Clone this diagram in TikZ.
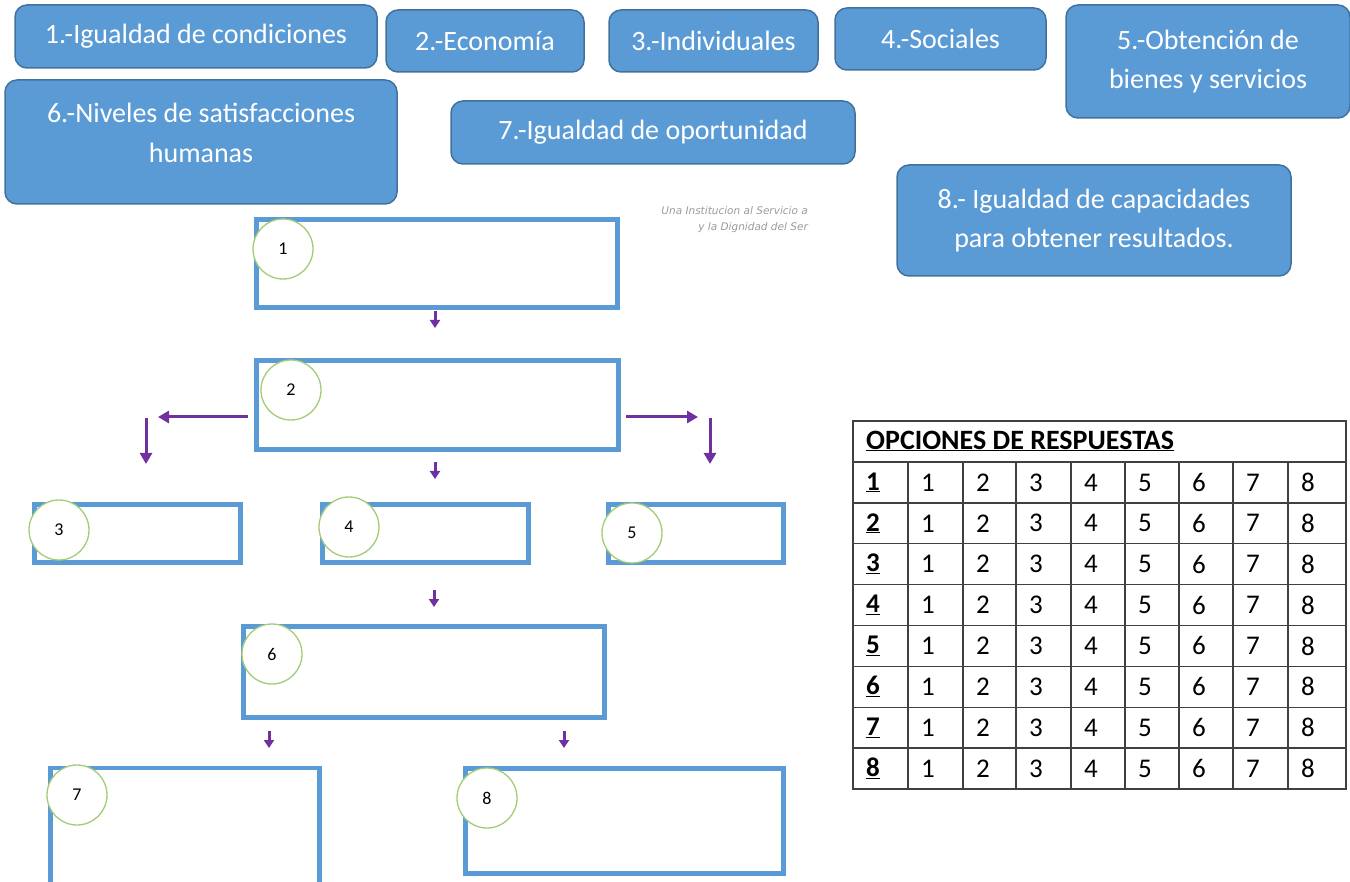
\documentclass[tikz,border=0pt]{standalone}
\usepackage{fontspec}
\setmainfont{Carlito}
\newfontfamily\wmfont{DejaVu Sans}
\usetikzlibrary{arrows.meta}
\definecolor{boxfill}{HTML}{5B9BD5}
\definecolor{boxline}{HTML}{41719C}
\definecolor{outl}{HTML}{5B9BD5}
\definecolor{purp}{HTML}{7030A0}
\definecolor{circg}{HTML}{A3CC76}
\definecolor{wmgray}{HTML}{9A9A9A}
\definecolor{tabgray}{HTML}{404040}
\begin{document}
\begin{tikzpicture}[x=1pt,y=-1pt,
 topbox/.style={draw=boxline, line width=1.5pt, fill=boxfill, rounded corners=12pt, text=white, font=\fontsize{28}{39}\selectfont, align=center, inner sep=0pt},
 toptext/.style={text=white, font=\fontsize{28}{40}\selectfont, align=center, inner sep=0pt},
 ansbox/.style={draw=outl, line width=4.5pt, inner sep=0pt, fill=white},
 numcirc/.style={circle, draw=circg, line width=1.3pt, fill=white, minimum size=60pt, inner sep=0pt, font=\fontsize{18}{18}\selectfont},
 arr/.style={draw=purp, line width=3pt, -{Triangle[length=11pt,width=12pt]}},
 tinyarr/.style={draw=purp, line width=3pt, -{Triangle[length=8pt,width=10pt]}},
 tabline/.style={draw=tabgray, line width=1.3pt},
 cell/.style={anchor=west, inner sep=0pt, font=\fontsize{27}{27}\selectfont}
]
\useasboundingbox (0,0) rectangle (1350,882);

% option boxes
\node[topbox, minimum width=362pt, minimum height=63pt] (t1) at (196,36.5) {1.-Igualdad de condiciones};
\node[topbox, minimum width=198pt, minimum height=62pt] (t2) at (485,41) {2.-Economía};
\node[topbox, minimum width=209pt, minimum height=62pt] (t3) at (713.5,41) {3.-Individuales};
\node[topbox, minimum width=211pt, minimum height=62pt] (t4) at (940.5,39) {4.-Sociales};
\node[topbox, minimum width=284pt, minimum height=113pt] (t5) at (1208,61.5) {5.-Obtención de\\bienes y servicios};
\node[topbox, minimum width=392pt, minimum height=124pt] (t6) at (201,142) {};
\node[toptext] (t6t) at (201,133) {6.-Niveles de satisfacciones\\humanas};
\node[topbox, minimum width=404pt, minimum height=63pt] (t7) at (653,132.5) {7.-Igualdad de oportunidad};
\node[topbox, minimum width=394pt, minimum height=111pt] (t8) at (1094,220.5) {8.- Igualdad de capacidades\\para obtener resultados.};

% watermark
\node[anchor=east, align=right, inner sep=0pt, text=wmgray, font=\fontsize{10.5}{16}\wmfont\itshape] (wm) at (808,220) {Una Institucion al Servicio a\\y la Dignidad del Ser};

% answer boxes
\node[ansbox, minimum width=361pt, minimum height=88pt] (b1) at (437,263.5) {};
\node[ansbox, minimum width=362pt, minimum height=89pt] (b2) at (437.5,405) {};
\node[ansbox, minimum width=206pt, minimum height=58pt] (b3) at (137.5,533.5) {};
\node[ansbox, minimum width=206pt, minimum height=58pt] (b4) at (425.5,533.5) {};
\node[ansbox, minimum width=175pt, minimum height=58pt] (b5) at (696,533.5) {};
\node[ansbox, minimum width=361pt, minimum height=91pt] (b6) at (424,672) {};
\node[ansbox, minimum width=269pt, minimum height=120pt] (b7) at (185,828) {};
\node[ansbox, minimum width=318pt, minimum height=105pt] (b8) at (624.5,821) {};

% numbered circles
\node[numcirc] (c1) at (283,249) {1};
\node[numcirc] (c2) at (291,390) {2};
\node[numcirc] (c3) at (59,530) {3};
\node[numcirc] (c4) at (349,527) {4};
\node[numcirc] (c5) at (632,533) {5};
\node[numcirc] (c6) at (272,654) {6};
\node[numcirc] (c7) at (77,795) {7};
\node[numcirc] (c8) at (487,798) {8};

% arrows
\coordinate (a1s) at (435,311); \coordinate (a1e) at (435,328);
\coordinate (a2s) at (435,462); \coordinate (a2e) at (435,479);
\coordinate (a3s) at (434,590); \coordinate (a3e) at (434,607);
\coordinate (a4s) at (269,731); \coordinate (a4e) at (269,748);
\coordinate (a5s) at (564,731); \coordinate (a5e) at (564,748);
\coordinate (lhs) at (248,417); \coordinate (lhe) at (158,417);
\coordinate (lvs) at (146,418); \coordinate (lve) at (146,464);
\coordinate (rhs) at (626,417); \coordinate (rhe) at (698,417);
\coordinate (rvs) at (710,418); \coordinate (rve) at (710,464);
\draw[tinyarr] (a1s) -- (a1e);
\draw[tinyarr] (a2s) -- (a2e);
\draw[tinyarr] (a3s) -- (a3e);
\draw[tinyarr] (a4s) -- (a4e);
\draw[tinyarr] (a5s) -- (a5e);
\draw[arr] (lhs) -- (lhe);
\draw[arr] (lvs) -- (lve);
\draw[arr] (rhs) -- (rhe);
\draw[arr] (rvs) -- (rve);

% table
\draw[tabline] (853,421) rectangle (1346,789);
\foreach \k in {0,...,7} {
  \draw[tabline] (853,{462+\k*40.875}) -- (1346,{462+\k*40.875});
}
\foreach \xx in {908,963,1016,1071,1125,1179,1233,1288} {
  \draw[tabline] (\xx,462) -- (\xx,789);
}
\node[anchor=west, inner sep=0pt, font=\fontsize{28}{28}\selectfont\bfseries] (hdr) at (866,441) {\underline{OPCIONES DE RESPUESTAS}};
\foreach \r in {1,...,8} {
  \node[cell, font=\fontsize{27}{27}\selectfont\bfseries] (r\r c0) at (866,{462+(\r-0.5)*40.875}) {\underline{\r}};
  \foreach \c/\xx in {1/908,2/963,3/1016,4/1071,5/1125,6/1179,7/1233,8/1288} {
    \node[cell] (r\r c\c) at ({\xx+13},{462+(\r-0.5)*40.875}) {\c};
  }
}
\end{tikzpicture}
\end{document}
